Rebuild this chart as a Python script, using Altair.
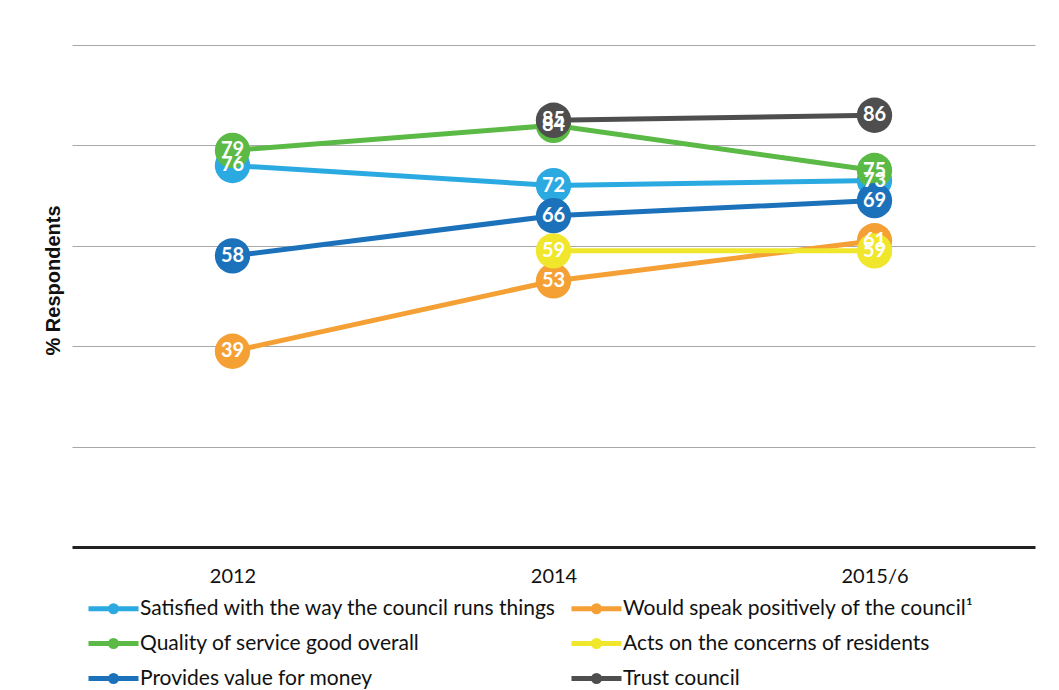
import altair as alt
import pandas as pd

years = ["2012", "2014", "2015/6"]
# legend is filled column by column
series = [
    "Satisfied with the way the council runs things",
    "Quality of service good overall",
    "Provides value for money",
    "Would speak positively of the council¹",
    "Acts on the concerns of residents",
    "Trust council",
]
colors = ["#2BA9E1", "#5BB946", "#1C72BA", "#F4A035", "#F0E62C", "#4E4E4E"]

satisfied = [76, 72, 73]
quality = [79, 84, 75]
value_money = [58, 66, 69]
speak = [39, 53, 61]
acts = [None, 59, 59]
trust = [None, 85, 86]

# drawing order of circles (higher = on top)
zorder = [0, 3, 4, 1, 2, 5]

rows = []
for s, vals, z in zip(series, [satisfied, quality, value_money, speak, acts, trust], zorder):
    for yr, v in zip(years, vals):
        if v is None:
            continue
        rows.append({"series": s, "year": yr, "value": v, "z": z, "label": str(v)})
df = pd.DataFrame(rows)

FONT = "Lato"

x = alt.X(
    "year:N",
    sort=years,
    scale=alt.Scale(type="point", padding=0.5),
    axis=alt.Axis(
        title=None,
        labelFontSize=20,
        labelFont=FONT,
        labelColor="#111111",
        labelPadding=19,
        labelAngle=0,
        ticks=False,
        grid=False,
        domain=True,
        domainColor="#222222",
        domainWidth=3,
    ),
)
y = alt.Y(
    "value:Q",
    scale=alt.Scale(domain=[0, 100]),
    axis=alt.Axis(
        title="% Respondents",
        titleFont="Liberation Sans",
        titleFontSize=20,
        titleFontWeight="bold",
        titleColor="#111111",
        titlePadding=9,
        titleY=235,
        labels=False,
        ticks=False,
        domain=False,
        values=[20, 40, 60, 80, 100],
        gridColor="#A8A8A8",
        gridWidth=1,
    ),
)

legend_path = "M-1.667,0 H1.667 M-0.2,0 A0.2,0.2 0 1,1 0.2,0 A0.2,0.2 0 1,1 -0.2,0 Z"

color_legend = alt.Color(
    "series:N",
    scale=alt.Scale(domain=series, range=colors),
    legend=alt.Legend(
        title=None,
        orient="none",
        legendX=24,
        legendY=546,
        columns=2,
        symbolType=legend_path,
        symbolSize=900,
        symbolStrokeWidth=5,
        labelFontSize=21,
        labelFont=FONT,
        labelColor="#111111",
        labelOffset=9,
        labelLimit=600,
        rowPadding=4,
        columnPadding=4,
        padding=0,
    ),
)
color_nolegend = alt.Color("series:N", scale=alt.Scale(domain=series, range=colors), legend=None)

base = alt.Chart(df)

lines = base.mark_line(strokeWidth=5).encode(x=x, y=y, color=color_legend, detail="series:N")
points = base.mark_point(filled=True, size=1250, opacity=1).encode(
    x=x, y=y, fill=color_nolegend, order=alt.Order("z:Q")
)
texts = base.mark_text(
    color="white", font=FONT, fontWeight="bold", fontSize=20, baseline="middle", align="center"
).encode(x=x, y=y, text="label:N", order=alt.Order("z:Q"))

chart = (
    alt.layer(lines, points, texts)
    .resolve_legend(color="independent", fill="independent")
    .properties(
        width=963,
        height=502,
        autosize=alt.AutoSizeParams(type="none"),
        padding={"left": 72, "top": 45, "right": 24, "bottom": 143},
        background="white",
    )
    .configure_view(stroke=None)
)

chart.save("out.html", embed_options={"renderer": "svg", "actions": False})
